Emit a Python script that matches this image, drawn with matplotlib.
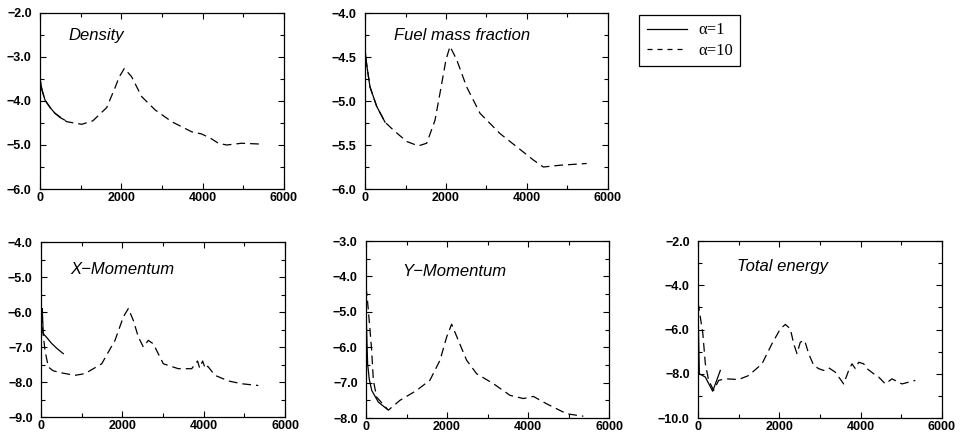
import matplotlib
matplotlib.use("Agg")
import matplotlib.pyplot as plt
from matplotlib.ticker import MultipleLocator, FuncFormatter
from matplotlib.lines import Line2D

# ---------------- data ----------------
dens_a1_x = [0, 10, 50, 123, 250, 369, 500, 600]
dens_a1_y = [-3.40, -3.55, -3.75, -3.98, -4.15, -4.28, -4.38, -4.43]
dens_a10_x = [0, 10, 50, 123, 250, 369, 656, 1025, 1300, 1640, 1844, 1950, 2074, 2254,
              2500, 2828, 3238, 3730, 3976, 4200, 4385, 4590, 4959, 5451]
dens_a10_y = [-3.40, -3.55, -3.75, -3.98, -4.15, -4.28, -4.47, -4.53, -4.45, -4.15, -3.70,
              -3.45, -3.26, -3.45, -3.90, -4.20, -4.47, -4.70, -4.75, -4.85, -4.96, -5.00,
              -4.96, -4.98]

fuel_a1_x = [0, 10, 40, 123, 288, 494]
fuel_a1_y = [-4.36, -4.45, -4.58, -4.84, -5.06, -5.24]
fuel_a10_x = [0, 10, 40, 123, 288, 494, 700, 1029, 1317, 1523, 1728, 1852, 2000, 2099,
              2263, 2510, 2840, 3333, 3745, 4156, 4403, 4815, 5473]
fuel_a10_y = [-4.36, -4.45, -4.58, -4.84, -5.06, -5.24, -5.33, -5.46, -5.51, -5.48, -5.22,
              -4.91, -4.53, -4.38, -4.53, -4.84, -5.14, -5.37, -5.52, -5.67, -5.75, -5.73,
              -5.71]

xmom_a1_x = [0, 15, 30, 56, 120, 263, 400, 548]
xmom_a1_y = [-5.65, -6.30, -5.90, -6.62, -6.70, -6.90, -7.05, -7.19]
xmom_a10_x = [0, 15, 40, 98, 180, 300, 508, 836, 1082, 1492, 1820, 2025, 2148, 2270, 2393,
              2516, 2639, 2762, 3008, 3377, 3705, 3850, 3900, 3975, 4040, 4100, 4279, 4607,
              4934, 5344]
xmom_a10_y = [-5.65, -6.30, -6.50, -7.10, -7.57, -7.68, -7.74, -7.81, -7.76, -7.48, -6.81,
              -6.14, -5.90, -6.24, -6.71, -7.00, -6.81, -6.91, -7.48, -7.62, -7.62, -7.40,
              -7.60, -7.40, -7.62, -7.55, -7.81, -7.97, -8.05, -8.10]

ymom_a1_x = [0, 8, 20, 40, 80, 141, 304, 510]
ymom_a1_y = [-4.30, -5.20, -5.71, -6.47, -6.90, -7.22, -7.55, -7.74]
ymom_a10_x = [0, 30, 58, 99, 140, 181, 263, 551, 840, 1251, 1580, 1827, 1992, 2115, 2280,
              2485, 2732, 3144, 3556, 3885, 4132, 4461, 4955, 5366]
ymom_a10_y = [-4.30, -4.60, -4.96, -5.52, -6.09, -6.93, -7.41, -7.78, -7.50, -7.22, -6.93,
              -6.37, -5.71, -5.35, -5.81, -6.37, -6.75, -7.03, -7.36, -7.45, -7.39, -7.60,
              -7.88, -7.95]

ener_a1_x = [0, 15, 33, 180, 361, 549]
ener_a1_y = [-4.76, -6.34, -8.00, -8.15, -8.79, -7.85]
ener_a10_x = [0, 30, 57, 120, 180, 262, 385, 508, 672, 1000, 1246, 1574, 1820, 2025, 2148,
              2270, 2353, 2434, 2516, 2623, 2721, 2844, 2967, 3090, 3213, 3377, 3582, 3705,
              3787, 3869, 3951, 4074, 4156, 4320, 4443, 4607, 4770, 5016, 5344]
ener_a10_y = [-4.76, -5.10, -5.44, -6.20, -7.55, -8.30, -8.75, -8.30, -8.23, -8.26, -8.08,
              -7.55, -6.64, -5.97, -5.77, -5.97, -6.64, -7.09, -6.57, -6.50, -7.09, -7.62,
              -7.77, -7.85, -7.73, -7.93, -8.46, -7.85, -7.55, -7.77, -7.48, -7.55, -7.77,
              -8.00, -8.15, -8.46, -8.23, -8.46, -8.30]

titles = ["Density", "Fuel mass fraction", "X\u2212Momentum", "Y\u2212Momentum", "Total energy"]
legend_labels = ["\u03b1=1", "\u03b1=10"]

# ---------------- layout ----------------
W, H = 965, 436
fig = plt.figure(figsize=(W / 100, H / 100), dpi=100)

def ax_at(l, t, r, b):
    return fig.add_axes([l / W, 1 - b / H, (r - l) / W, (b - t) / H])

panels = [
    dict(box=(40, 13, 284, 189), ylim=(-6, -2), major=1.0, minor=0.5, fmt="%.1f",
         a1=(dens_a1_x, dens_a1_y), a10=(dens_a10_x, dens_a10_y), tpos=(0.115, 0.87)),
    dict(box=(365, 13, 608, 189), ylim=(-6, -4), major=0.5, minor=0.25, fmt="%.1f",
         a1=(fuel_a1_x, fuel_a1_y), a10=(fuel_a10_x, fuel_a10_y), tpos=(0.12, 0.875)),
    dict(box=(41, 242, 285, 417), ylim=(-9, -4), major=1.0, minor=0.5, fmt="%.1f",
         a1=(xmom_a1_x, xmom_a1_y), a10=(xmom_a10_x, xmom_a10_y), tpos=(0.119, 0.84)),
    dict(box=(366, 241, 609, 418), ylim=(-8, -3), major=1.0, minor=0.5, fmt="%.1f",
         a1=(ymom_a1_x, ymom_a1_y), a10=(ymom_a10_x, ymom_a10_y), tpos=(0.148, 0.827)),
    dict(box=(698, 241, 942, 418), ylim=(-10, -2), major=2.0, minor=1.0, fmt="%.1f",
         a1=(ener_a1_x, ener_a1_y), a10=(ener_a10_x, ener_a10_y), tpos=(0.16, 0.855)),
]

tickfont = dict(family=["Liberation Sans", "DejaVu Sans"], size=9, weight="bold")
dash = (0, (7, 4))

def yfmt(f):
    return FuncFormatter(lambda v, p: (f % v).replace("-", "\u2212"))

for p, title in zip(panels, titles):
    ax = ax_at(*p["box"])
    ax.plot(*p["a1"], color="black", lw=0.9, ls="-")
    ax.plot(*p["a10"], color="black", lw=0.9, ls=dash)
    ax.set_xlim(0, 6000)
    ax.set_ylim(*p["ylim"])
    ax.xaxis.set_major_locator(MultipleLocator(2000))
    ax.xaxis.set_minor_locator(MultipleLocator(1000))
    ax.yaxis.set_major_locator(MultipleLocator(p["major"]))
    ax.yaxis.set_minor_locator(MultipleLocator(p["minor"]))
    ax.yaxis.set_major_formatter(yfmt(p["fmt"]))
    ax.xaxis.set_major_formatter(FuncFormatter(lambda v, q: "%d" % v))
    ax.tick_params(which="both", direction="in", top=True, right=True, width=0.8)
    ax.tick_params(which="major", length=4)
    ax.tick_params(which="minor", length=3)
    ax.tick_params(axis="y", pad=6)
    ax.tick_params(axis="x", pad=2)
    for lab in ax.get_xticklabels() + ax.get_yticklabels():
        lab.set_fontfamily(tickfont["family"])
        lab.set_fontsize(tickfont["size"])
        lab.set_fontweight(tickfont["weight"])
    for s in ax.spines.values():
        s.set_linewidth(0.9)
    ax.text(p["tpos"][0], p["tpos"][1], title, transform=ax.transAxes,
            fontsize=12, style="italic", family=["Liberation Sans", "DejaVu Sans"],
            ha="left", va="center")

handles = [Line2D([], [], color="black", lw=0.9, ls="-"),
           Line2D([], [], color="black", lw=0.9, ls=(0, (4, 4)))]
leg = fig.legend(handles, legend_labels, loc="upper left",
                 bbox_to_anchor=(639 / W, 1 - 15 / H), borderaxespad=0, frameon=True,
                 fancybox=False, edgecolor="black", framealpha=1,
                 prop=dict(family=["Liberation Serif", "DejaVu Serif"], size=12),
                 handlelength=2.4, handletextpad=0.7, borderpad=0.45, labelspacing=0.25)
leg.get_frame().set_linewidth(0.9)

fig.savefig("out.png", dpi=100)
